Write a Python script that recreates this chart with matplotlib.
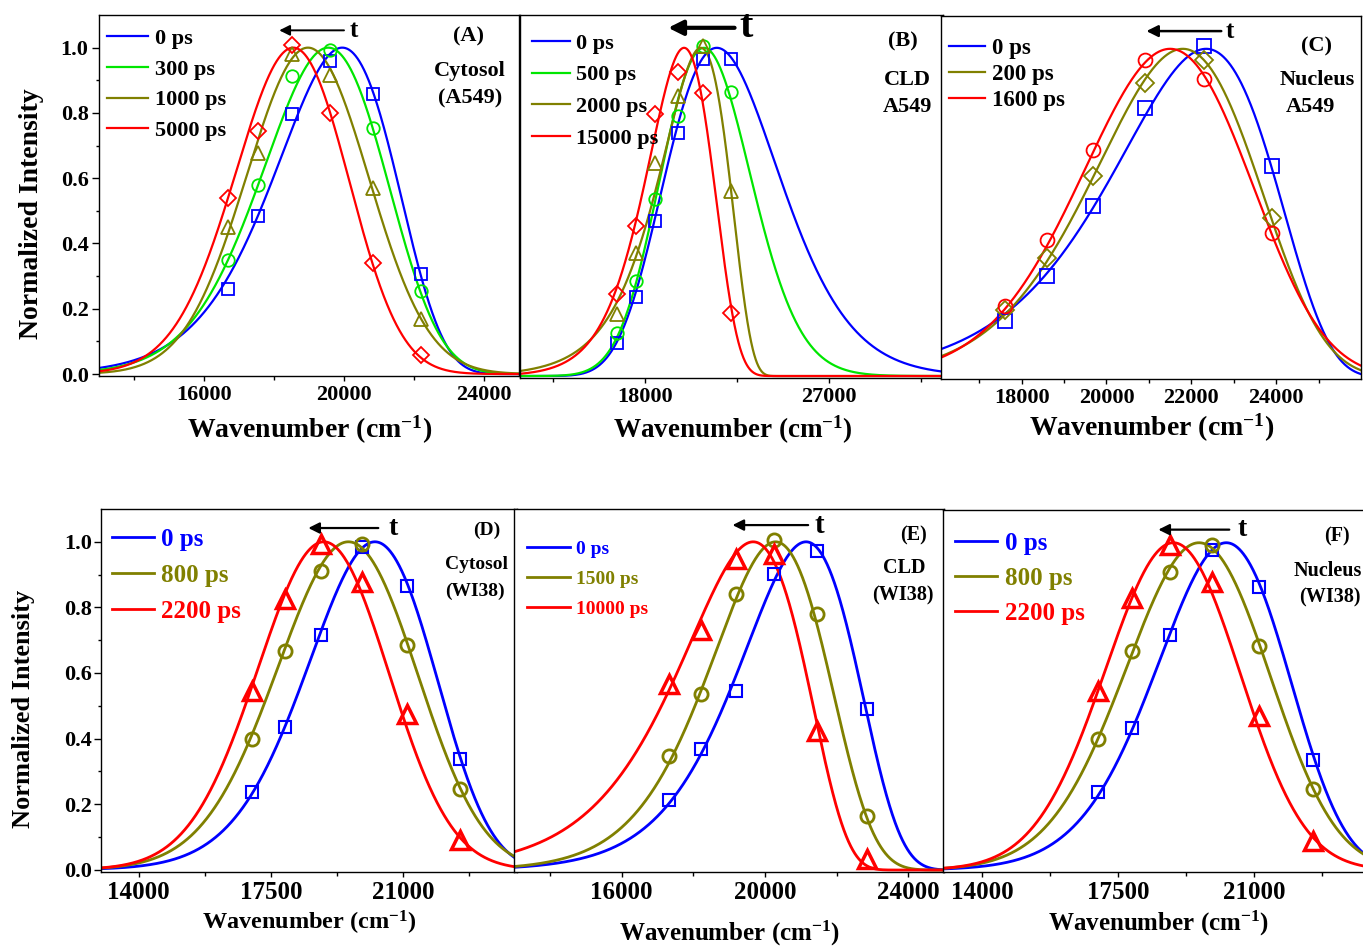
import numpy as np
import matplotlib
matplotlib.use('Agg')
import matplotlib.pyplot as plt
from matplotlib.ticker import FixedLocator

plt.rcParams['font.family'] = ['Liberation Serif', 'DejaVu Serif']
plt.rcParams['font.weight'] = 'bold'
plt.rcParams['mathtext.fontset'] = 'custom'
plt.rcParams['mathtext.rm'] = 'Liberation Serif:bold'
plt.rcParams['mathtext.it'] = 'Liberation Serif:bold'
plt.rcParams['mathtext.bf'] = 'Liberation Serif:bold'

BLUE, GREEN, OLIVE, RED = '#0000FF', '#00E600', '#808000', '#FF0000'

# ---------------- data ----------------
# (A) Cytosol A549
A_labels = ['0 ps', '300 ps', '1000 ps', '5000 ps']
A_x = [16680, 17550, 18520, 19600, 20820, 22200]
A_0 = [0.261, 0.485, 0.796, 0.959, 0.858, 0.305]
A_300 = [0.348, 0.578, 0.913, 0.994, 0.753, 0.254]
A_1000 = [0.450, 0.676, 0.980, 0.915, 0.570, 0.170]
A_5000 = [0.539, 0.746, 1.009, 0.800, 0.341, 0.058]
# log-normal fit: peak position, low- and high-energy half widths at half maximum
A_peak = [19950, 19550, 18970, 18550]
A_hwl = [2350, 2280, 2070, 1980]
A_hwr = [1780, 1930, 2030, 1830]

# (B) CLD A549
B_labels = ['0 ps', '500 ps', '2000 ps', '15000 ps']
B_x = [16650, 17560, 18520, 19630, 20850, 22210]
B_0 = [0.100, 0.242, 0.472, 0.741, 0.966, 0.966]
B_500 = [0.132, 0.291, 0.540, 0.792, 1.005, 0.865]
B_2000 = [0.188, 0.376, 0.650, 0.853, 1.007, 0.563]
B_15000 = [0.249, 0.457, 0.799, 0.926, 0.861, 0.193]
B_peak = [21530, 20900, 20750, 19930]
B_hwl = [2950, 2500, 2500, 2250]
B_hwr = [3700, 2720, 1600, 1650]

# (C) Nucleus A549
C_labels = ['0 ps', '200 ps', '1600 ps']
C_x = [17610, 18590, 19690, 20900, 22300, 23900]
C_0 = [0.171, 0.307, 0.521, 0.819, 1.010, 0.643]
C_200 = [0.203, 0.363, 0.611, 0.895, 0.966, 0.485]
C_1600 = [0.216, 0.416, 0.693, 0.966, 0.909, 0.439]
C_peak = [22350, 21800, 21500]
C_hwl = [2740, 2545, 2500]
C_hwr = [1850, 2043, 2200]

# (D) Cytosol WI38
D_labels = ['0 ps', '800 ps', '2200 ps']
D_x = [16990, 17875, 18820, 19900, 21105, 22500]
D_0 = [0.236, 0.434, 0.715, 0.983, 0.866, 0.337]
D_800 = [0.398, 0.668, 0.912, 0.993, 0.685, 0.246]
D_2200 = [0.544, 0.825, 0.993, 0.876, 0.475, 0.090]
D_peak = [20250, 19550, 18900]
D_hwl = [2158, 2245, 2080]
D_hwr = [1849, 2113, 2000]

# (E) CLD WI38
E_labels = ['0 ps', '1500 ps', '10000 ps']
E_x = [17330, 18205, 19190, 20250, 21460, 22865]
E_0 = [0.212, 0.369, 0.544, 0.901, 0.973, 0.491]
E_1500 = [0.346, 0.537, 0.842, 1.007, 0.781, 0.166]
E_10000 = [0.568, 0.732, 0.949, 0.962, 0.425, 0.034]
E_peak = [21150, 20300, 19674]
E_hwl = [2300, 2250, 2558]
E_hwr = [1650, 1700, 1675]

# (F) Nucleus WI38
F_labels = ['0 ps', '800 ps', '2200 ps']
F_x = [16980, 17860, 18835, 19905, 21110, 22500]
F_0 = [0.238, 0.433, 0.717, 0.979, 0.866, 0.336]
F_800 = [0.401, 0.669, 0.910, 0.992, 0.686, 0.248]
F_2200 = [0.548, 0.832, 0.992, 0.880, 0.472, 0.090]
F_peak = [20280, 19580, 18920]
F_hwl = [2170, 2250, 2080]
F_hwr = [1850, 2100, 2000]


def lognormal(nu, nu0, hwl, hwr):
    b = np.log(hwr / hwl)
    if abs(b) < 1e-6:
        return np.exp(-np.log(2) * ((nu - nu0) / hwl) ** 2)
    delta = 2 * b * hwr / (np.exp(b) - 1)
    arg = 1 + 2 * b * (nu - nu0) / delta
    out = np.zeros_like(nu)
    m = arg > 0
    out[m] = np.exp(-np.log(2) * (np.log(arg[m]) / b) ** 2)
    return out


W, H = 1363, 952
fig = plt.figure(figsize=(W / 100, H / 100), dpi=100)


def make_ax(x0, y0, x1, y1):
    return fig.add_axes([x0 / W, 1 - y1 / H, (x1 - x0) / W, (y1 - y0) / H])


def panel(ax, xlim, major, minor, pts_x, series, peaks, hwl, hwr, colors, markers,
          msizes, mews, labels, lw, show_y, tick_fs, xlab_fs, xlab_pos,
          leg_kw, leg_color, arrow, tfs, arrow_lw, texts):
    nu = np.linspace(xlim[0], xlim[1], 1500)
    handles = []
    for ys, p, l, r, c, mk, ms, mw, lab in zip(series, peaks, hwl, hwr, colors, markers,
                                               msizes, mews, labels):
        h, = ax.plot(nu, lognormal(nu, p, l, r), color=c, lw=lw, label=lab, zorder=2)
        handles.append(h)
        ax.plot(pts_x, ys, ls='none', marker=mk, ms=ms, mfc='none', mec=c, mew=mw,
                zorder=3, clip_on=False)
    ax.set_xlim(*xlim)
    ax.set_ylim(-0.006, 1.1)
    ax.xaxis.set_major_locator(FixedLocator(major))
    ax.xaxis.set_minor_locator(FixedLocator(minor))
    ax.set_xticklabels([str(v) for v in major])
    ax.tick_params(axis='x', which='major', direction='out', length=3.6, width=1,
                   labelsize=tick_fs, pad=3)
    ax.tick_params(axis='x', which='minor', direction='out', length=3, width=1)
    if show_y:
        ax.set_yticks([0, 0.2, 0.4, 0.6, 0.8, 1.0])
        ax.set_yticklabels(['0.0', '0.2', '0.4', '0.6', '0.8', '1.0'])
        ax.set_yticks(np.arange(0.1, 1.1, 0.2), minor=True)
        ax.tick_params(axis='y', which='major', direction='out', length=5, width=1,
                       labelsize=16, pad=show_y[3])
        ax.tick_params(axis='y', which='minor', direction='out', length=2.5, width=1)
        ax.set_ylabel('Normalized Intensity', fontsize=show_y[0], fontweight='bold',
                      va='center')
        ax.yaxis.set_label_coords(show_y[1], show_y[2])
    else:
        ax.set_yticks([])
    for s in ax.spines.values():
        s.set_linewidth(1.0)
    ax.set_xlabel('Wavenumber (cm$^{-1}$)', fontsize=xlab_fs, fontweight='bold',
                  va='center')
    ax.xaxis.set_label_coords(*xlab_pos)
    leg = ax.legend(handles=handles, loc='upper left', frameon=False, borderpad=0,
                    borderaxespad=0, **leg_kw)
    if leg_color:
        for t, c in zip(leg.get_texts(), colors):
            t.set_color(c)
    (xa, xb, ya, xt) = arrow
    ax.annotate('', xy=(xb, ya), xytext=(xa, ya),
                arrowprops=dict(arrowstyle='-|>', color='black', lw=arrow_lw,
                                mutation_scale=10 + 4 * arrow_lw, shrinkA=0, shrinkB=0))
    ax.text(xt, ya, 't', fontsize=tfs, fontweight='bold', ha='center', va='center')
    for (tx, ty, s, fs) in texts:
        ax.text(tx, ty, s, transform=ax.transAxes, fontsize=fs, fontweight='bold',
                ha='center', va='center')


# ---- top row ----
axA = make_ax(99, 15, 519, 376)
panel(axA, (13000, 25000), [16000, 20000, 24000], [14000, 18000, 22000],
      A_x, [A_0, A_300, A_1000, A_5000], A_peak, A_hwl, A_hwr,
      [BLUE, GREEN, OLIVE, RED], ['s', 'o', '^', 'D'], [9, 9, 10.5, 8.5], [1.3] * 4,
      A_labels, 1.6, (20, -0.16, 0.449, 2.5), 16, 20, (0.502, -0.15),
      dict(fontsize=16, handlelength=1.85, handletextpad=0.3, labelspacing=0.45,
           bbox_to_anchor=(0.019, 0.962)), False,
      (20000, 18150, 1.053, 20290), 18, 1.4,
      [(0.879, 0.94, '(A)', 16), (0.883, 0.845, 'Cytosol', 16), (0.883, 0.77, '(A549)', 16)])

axB = make_ax(520, 15, 943, 378)
panel(axB, (11900, 32600), [18000, 27000], [13500, 22500, 31500],
      B_x, [B_0, B_500, B_2000, B_15000], B_peak, B_hwl, B_hwr,
      [BLUE, GREEN, OLIVE, RED], ['s', 'o', '^', 'D'], [9, 9, 10.5, 8.5], [1.3] * 4,
      B_labels, 1.6, None, 16, 19.5, (0.504, -0.143),
      dict(fontsize=16, handlelength=1.7, handletextpad=0.27, labelspacing=0.5,
           bbox_to_anchor=(0.028, 0.95)), False,
      (22400, 19150, 1.061, 22980), 29, 3.0,
      [(0.905, 0.926, '(B)', 16), (0.915, 0.82, 'CLD', 16), (0.917, 0.746, 'A549', 16)])

axC = make_ax(941, 16, 1361, 379)
panel(axC, (16100, 26000), [18000, 20000, 22000, 24000], [17000, 19000, 21000, 23000, 25000],
      C_x, [C_0, C_200, C_1600], C_peak, C_hwl, C_hwr,
      [BLUE, OLIVE, RED], ['s', 'D', 'o'], [9.5, 9.5, 10], [1.3] * 3,
      C_labels, 1.6, None, 16, 20, (0.502, -0.135),
      dict(fontsize=16.5, handlelength=1.57, handletextpad=0.3, labelspacing=0.22,
           bbox_to_anchor=(0.019, 0.939)), False,
      (22706, 20941, 1.054, 22900), 18, 1.8,
      [(0.895, 0.915, '(C)', 16), (0.895, 0.824, 'Nucleus', 16), (0.879, 0.749, 'A549', 16)])

# ---- bottom row ----
axD = make_ax(100.7, 509, 516.7, 871.7)
panel(axD, (13000, 24000), [14000, 17500, 21000], [15750, 19250, 22750],
      D_x, [D_0, D_800, D_2200], D_peak, D_hwl, D_hwr,
      [BLUE, OLIVE, RED], ['s', 'o', '^'], [8.5, 9.5, 13], [1.5, 2.0, 2.5],
      D_labels, 2.0, (19, -0.186, 0.449, 1.0), 18, 17.5, (0.501, -0.142),
      dict(fontsize=18, handlelength=1.68, handletextpad=0.3, labelspacing=0.52,
           bbox_to_anchor=(0.026, 0.948)), True,
      (20340, 18490, 1.042, 20736), 20, 1.6,
      [(0.928, 0.942, '(D)', 14), (0.904, 0.846, 'Cytosol', 14), (0.90, 0.772, '(WI38)', 14)])

axE = make_ax(514, 509, 944, 872)
panel(axE, (13000, 25000), [16000, 20000, 24000], [14000, 18000, 22000],
      E_x, [E_0, E_1500, E_10000], E_peak, E_hwl, E_hwr,
      [BLUE, OLIVE, RED], ['s', 'o', '^'], [8.5, 9.5, 13], [1.5, 2.0, 2.5],
      E_labels, 2.0, None, 18, 18, (0.502, -0.169),
      dict(fontsize=14, handlelength=2.2, handletextpad=0.3, labelspacing=0.63,
           bbox_to_anchor=(0.030, 0.914)), True,
      (21209, 19098, 1.051, 21516), 21, 1.6,
      [(0.93, 0.928, '(E)', 14.5), (0.907, 0.837, 'CLD', 14.5), (0.905, 0.763, '(WI38)', 14.5)])

axF = make_ax(943, 510, 1371, 872)
panel(axF, (13000, 24000), [14000, 17500, 21000], [15750, 19250, 22750],
      F_x, [F_0, F_800, F_2200], F_peak, F_hwl, F_hwr,
      [BLUE, OLIVE, RED], ['s', 'o', '^'], [8.5, 9.5, 13], [1.5, 2.0, 2.5],
      F_labels, 2.0, None, 18, 18, (0.503, -0.142),
      dict(fontsize=18, handlelength=1.68, handletextpad=0.32, labelspacing=0.47,
           bbox_to_anchor=(0.028, 0.939)), True,
      (20358, 18535, 1.04, 20700), 20, 1.6,
      [(0.92, 0.928, '(F)', 14.5), (0.90, 0.832, 'Nucleus', 14.5), (0.904, 0.758, '(WI38)', 14.5)])

fig.savefig('out.png', dpi=100)
